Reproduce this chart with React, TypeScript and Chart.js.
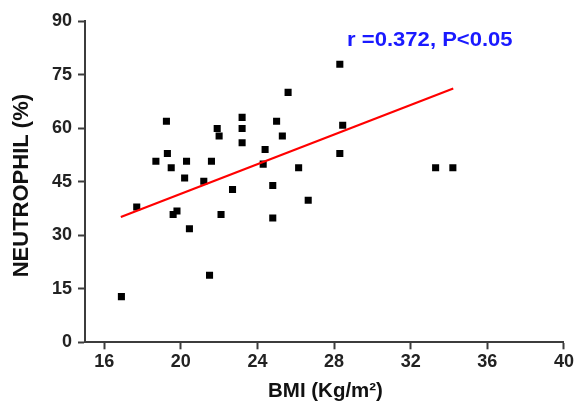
import React, { useEffect, useRef } from "react";
import { Chart, registerables } from "chart.js";

Chart.register(...registerables);

const bmi = [16.9, 17.7, 18.7, 19.25, 19.3, 19.5, 19.6, 19.8, 20.2, 20.3, 20.45, 21.2, 21.5, 21.6, 21.9, 22.0, 22.1, 22.7, 23.2, 23.2, 23.2, 24.3, 24.4, 24.8, 24.8, 25.0, 25.3, 25.6, 26.15, 26.65, 28.3, 28.3, 28.45, 33.3, 34.2];
const neutrophil = [12.8, 37.9, 50.7, 61.9, 52.9, 48.9, 35.8, 36.8, 46.0, 50.7, 31.8, 45.1, 18.8, 50.7, 59.9, 57.8, 35.8, 42.8, 63.0, 59.9, 55.9, 49.9, 54.0, 43.9, 34.8, 61.9, 57.8, 70.0, 48.9, 39.8, 77.9, 52.9, 60.8, 48.9, 48.9];
const trendX = [16.87, 34.22];
const trendY = [35.1, 71.1];
const xTicks = [16, 20, 24, 28, 32, 36, 40];
const yTicks = [0, 15, 30, 45, 60, 75, 90];
const xTitle = "BMI (Kg/m²)";
const yTitle = "NEUTROPHIL (%)";
const annotationText = "r =0.372, P<0.05";
const annotationAt = { x: 33.0, y: 84.6 };

const FONT = "Arial, 'Liberation Sans', Helvetica, sans-serif";
const NARROW = "'Liberation Sans Narrow', 'Arial Narrow', Arial, sans-serif";

// draws text, optionally slightly stretched along its direction
function wideText(ctx: any, text: string, x: number, y: number, stretch: number, rot: number) {
  ctx.save();
  ctx.translate(x, y);
  ctx.rotate(rot);
  ctx.scale(stretch, 1);
  ctx.textAlign = "center";
  ctx.textBaseline = "middle";
  ctx.fillText(text, 0, 0);
  ctx.restore();
}

const textPlugin = {
  id: "texts",
  afterDatasetsDraw(chart: any) {
    const { ctx, scales, chartArea } = chart;
    ctx.save();
    ctx.font = `bold 21px ${FONT}`;
    ctx.fillStyle = "#1a1aff";
    wideText(ctx, annotationText, scales.x.getPixelForValue(annotationAt.x), scales.y.getPixelForValue(annotationAt.y), 1.05, 0);
    ctx.fillStyle = "#111";
    ctx.font = `bold 19.5px ${FONT}`;
    wideText(ctx, xTitle, (chartArea.left + chartArea.right) / 2 + 1, chartArea.bottom + 49, 1.05, 0);
    ctx.font = `bold 22px ${FONT}`;
    wideText(ctx, yTitle, chartArea.left - 63.5, (chartArea.top + chartArea.bottom) / 2 + 4, 1.0, -Math.PI / 2);
    ctx.restore();
  },
};

export default function App() {
  const ref = useRef<HTMLCanvasElement | null>(null);
  useEffect(() => {
    if (!ref.current) return;
    const pts = bmi.map((x, i) => ({ x, y: neutrophil[i] }));
    const line = trendX.map((x, i) => ({ x, y: trendY[i] }));
    const axisColor = "#3c3c3c";
    const chart = new Chart(ref.current, {
      type: "scatter",
      data: {
        datasets: [
          {
            type: "line",
            data: line,
            borderColor: "#ff0000",
            borderWidth: 2.2,
            pointRadius: 0,
            fill: false,
            order: 0,
          } as any,
          {
            data: pts,
            pointStyle: "rect",
            pointRadius: 5,
            backgroundColor: "#000000",
            borderColor: "#000000",
            borderWidth: 0,
            order: 1,
          },
        ],
      },
      options: {
        responsive: false,
        animation: false,
        layout: { padding: { left: 0, right: 11, top: 21, bottom: 0 } },
        plugins: { legend: { display: false }, tooltip: { enabled: false } },
        scales: {
          x: {
            type: "linear",
            min: 15,
            max: 40,
            afterBuildTicks: (s: any) => {
              s.ticks = xTicks.map((v) => ({ value: v }));
            },
            afterFit: (s: any) => {
              s.height = 61.7;
            },
            grid: {
              drawOnChartArea: false,
              drawTicks: true,
              tickLength: 7,
              tickColor: axisColor,
              tickWidth: 2,
            },
            border: { color: axisColor, width: 2 },
            ticks: {
              color: "#222",
              font: { family: NARROW, size: 18, weight: "bold" },
              padding: 2,
            },
            title: { display: false },
          },
          y: {
            type: "linear",
            min: 0,
            max: 90,
            afterBuildTicks: (s: any) => {
              s.ticks = yTicks.map((v) => ({ value: v }));
            },
            afterFit: (s: any) => {
              s.width = 85;
            },
            grid: {
              drawOnChartArea: false,
              drawTicks: true,
              tickLength: 7,
              tickColor: axisColor,
              tickWidth: 2,
            },
            border: { color: axisColor, width: 2 },
            ticks: {
              color: "#222",
              font: { family: NARROW, size: 18, weight: "bold" },
              padding: 6,
            },
            title: { display: false },
          },
        },
      },
      plugins: [textPlugin],
    });
    return () => chart.destroy();
  }, []);
  return (
    <div style={{ position: "fixed", left: 0, top: 0, width: 576, height: 404, background: "#fff" }}>
      <canvas ref={ref} width={576} height={404} style={{ display: "block", width: 576, height: 404 }} />
    </div>
  );
}
